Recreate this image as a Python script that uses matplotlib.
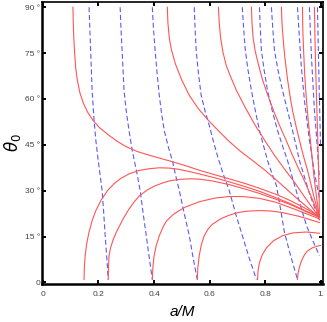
import matplotlib
matplotlib.use("Agg")
import matplotlib.pyplot as plt

# red contours that start at the top edge (a/M, theta0 in degrees)
red_t1 = [(0.108, 90), (0.109, 85), (0.111, 80), (0.114, 75), (0.118, 70), (0.124, 66), (0.133, 62),
          (0.146, 58.5), (0.162, 55.5), (0.180, 53.0), (0.205, 50.5), (0.238, 48.1), (0.270, 46.0),
          (0.300, 44.4), (0.340, 42.8), (0.383, 41.6), (0.430, 40.4), (0.466, 39.5), (0.520, 38.0),
          (0.563, 36.7), (0.620, 35.2), (0.671, 33.9), (0.730, 32.3), (0.780, 30.8), (0.840, 28.8),
          (0.888, 26.9), (0.930, 25.0), (0.960, 23.5), (0.980, 22.3), (0.996, 21.3)]
red_t2 = [(0.448, 90), (0.450, 85), (0.455, 80), (0.463, 76), (0.477, 71.5), (0.500, 66.2),
          (0.527, 61.2), (0.560, 56.8), (0.596, 53.0), (0.630, 49.8), (0.671, 46.1), (0.710, 43.0),
          (0.755, 39.9), (0.800, 36.7), (0.852, 32.6), (0.890, 29.5), (0.924, 26.8), (0.960, 24.0),
          (0.996, 21.3)]
red_t3 = [(0.632, 90), (0.635, 85), (0.640, 80), (0.648, 75.5), (0.660, 71), (0.675, 67.5),
          (0.697, 62.8), (0.730, 57.0), (0.762, 51.8), (0.800, 46.3), (0.834, 41.6), (0.870, 37.1),
          (0.906, 32.8), (0.950, 27.0), (0.996, 21.3)]
red_t4 = [(0.751, 90), (0.753, 85), (0.757, 80), (0.765, 75.5), (0.777, 71), (0.792, 66),
          (0.809, 61.5), (0.830, 56.3), (0.852, 51.4), (0.876, 46.5), (0.899, 41.6), (0.920, 37.4),
          (0.942, 33.2), (0.970, 27.3), (0.996, 21.3)]
red_t5 = [(0.859, 90), (0.861, 85), (0.865, 80), (0.871, 74), (0.881, 66.5), (0.890, 61),
          (0.899, 56.3), (0.912, 51), (0.924, 46.5), (0.938, 41.5), (0.953, 36.7), (0.965, 32.3),
          (0.975, 28.5), (0.986, 24.7), (0.996, 21.3)]
red_t6 = [(0.935, 90), (0.936, 83), (0.939, 75.9), (0.943, 68), (0.949, 60), (0.956, 52.5),
          (0.964, 46), (0.971, 39.5), (0.978, 33.4), (0.987, 27), (0.996, 21.3)]
red_t7 = [(0.978, 90), (0.980, 80), (0.982, 72), (0.985, 62), (0.988, 53), (0.991, 44),
          (0.993, 36.5), (0.995, 28.5), (0.996, 21.3)]

# red contours that rise from theta0 = 0
red_a1 = [(0.148, 1.0), (0.149, 5), (0.152, 8.8), (0.157, 12.5), (0.166, 16.5), (0.178, 20.5),
          (0.191, 23.6), (0.210, 27.0), (0.232, 30.0), (0.256, 32.3), (0.280, 34.0), (0.310, 35.5),
          (0.345, 36.6), (0.383, 37.2), (0.420, 37.5), (0.455, 37.4), (0.490, 37.0), (0.530, 36.2),
          (0.563, 35.5), (0.620, 34.2), (0.671, 32.9), (0.730, 31.3), (0.780, 29.8), (0.840, 27.7),
          (0.888, 25.9), (0.940, 23.7), (0.996, 21.3)]
red_a2 = [(0.235, 1.0), (0.236, 5), (0.238, 8.8), (0.244, 11.5), (0.253, 14.0), (0.263, 16.2),
          (0.274, 18.2), (0.290, 21.0), (0.310, 24.0), (0.330, 26.5), (0.347, 28.3), (0.375, 30.2),
          (0.401, 31.5), (0.430, 32.5), (0.455, 33.2), (0.490, 33.7), (0.530, 33.9), (0.563, 33.8),
          (0.610, 33.2), (0.671, 32.0), (0.730, 30.5), (0.780, 29.1), (0.840, 27.2), (0.888, 25.6),
          (0.940, 23.5), (0.996, 21.3)]
red_a3 = [(0.394, 1.0), (0.396, 5), (0.400, 8.5), (0.408, 12.1), (0.420, 15.5), (0.433, 18.2),
          (0.444, 20.0), (0.470, 22.3), (0.509, 24.5), (0.563, 26.4), (0.620, 27.6), (0.671, 28.1),
          (0.720, 28.1), (0.780, 27.5), (0.840, 26.2), (0.888, 24.6), (0.940, 22.8), (0.996, 20.8)]
red_a4 = [(0.556, 1.0), (0.558, 5), (0.563, 8.8), (0.571, 12.5), (0.581, 15.3), (0.595, 17.5),
          (0.610, 19.0), (0.640, 20.8), (0.671, 22.0), (0.700, 22.8), (0.733, 23.3), (0.780, 23.5),
          (0.816, 23.4), (0.860, 22.9), (0.924, 21.6), (0.960, 20.6), (0.996, 19.6)]
red_a5 = [(0.773, 1.0), (0.775, 4), (0.780, 6.5), (0.790, 9.0), (0.805, 11.3), (0.830, 13.6),
          (0.863, 15.3), (0.900, 16.2), (0.949, 16.5), (0.996, 16.1)]
red_a6 = [(0.917, 1.0), (0.919, 3), (0.924, 5), (0.931, 7), (0.942, 9), (0.953, 10.3),
          (0.970, 11.3), (0.989, 11.9), (1.0, 12.1)]

# blue dashed contours
blue_1 = [(0.166, 90), (0.170, 80), (0.173, 72.7), (0.177, 62.8), (0.184, 53.0), (0.191, 46),
          (0.199, 39.9), (0.206, 35), (0.213, 30.1), (0.219, 22.5), (0.224, 15.4), (0.230, 8),
          (0.235, 1.0)]
blue_2 = [(0.278, 90), (0.281, 83), (0.285, 75.9), (0.292, 62.8), (0.300, 56), (0.310, 49.7),
          (0.319, 44.5), (0.329, 39.9), (0.340, 35), (0.350, 30.1), (0.361, 22.5), (0.372, 15.4),
          (0.383, 8), (0.394, 1.0)]
blue_3 = [(0.394, 90), (0.398, 83), (0.404, 75.9), (0.411, 68.5), (0.419, 61.2), (0.427, 55.5),
          (0.437, 49.7), (0.451, 44.5), (0.466, 39.9), (0.478, 35), (0.491, 30.1), (0.509, 22.5),
          (0.527, 15.4), (0.541, 8), (0.556, 1.0)]
blue_4 = [(0.545, 90), (0.548, 83), (0.552, 75.9), (0.560, 68.5), (0.570, 61.2), (0.584, 56),
          (0.599, 51.4), (0.613, 46.5), (0.628, 41.6), (0.648, 35.8), (0.671, 30.1), (0.694, 22.5),
          (0.718, 15.4), (0.743, 8), (0.769, 1.0)]
blue_5 = [(0.718, 90), (0.723, 83), (0.729, 75.9), (0.739, 69.3), (0.751, 62.8), (0.765, 56.2),
          (0.780, 49.7), (0.795, 44.6), (0.809, 39.9), (0.825, 35.6), (0.841, 31.7), (0.856, 24),
          (0.870, 16.4), (0.893, 8.5), (0.917, 1.0)]
blue_6 = [(0.780, 90), (0.783, 83), (0.787, 75.9), (0.797, 69.3), (0.809, 62.8), (0.826, 56.2),
          (0.845, 49.7), (0.863, 44.7), (0.881, 39.9), (0.897, 34.8), (0.913, 29.8), (0.931, 24.2),
          (0.949, 18.7), (0.972, 13.7), (0.996, 8.8)]
blue_7 = [(0.823, 90), (0.828, 83), (0.834, 75.9), (0.847, 69.3), (0.863, 62.8), (0.881, 56.2),
          (0.899, 49.7), (0.912, 44.7), (0.924, 39.9), (0.942, 34.5), (0.960, 29.1), (0.978, 24.7),
          (0.996, 20.3)]
blue_8 = [(0.917, 90), (0.924, 80), (0.931, 70.4), (0.942, 59.6), (0.951, 53), (0.960, 46.5),
          (0.969, 41.2), (0.978, 36.0), (0.987, 31.7), (0.996, 27.5)]
blue_9 = [(0.960, 90), (0.964, 81), (0.968, 72.7), (0.973, 64.5), (0.978, 56.3), (0.984, 49.7),
          (0.989, 43.2), (0.996, 34.0)]
blue_10 = [(0.989, 90), (0.991, 81), (0.993, 72.7), (0.996, 60), (1.0, 45.0)]

red_curves = [red_t1, red_t2, red_t3, red_t4, red_t5, red_t6, red_t7,
              red_a1, red_a2, red_a3, red_a4, red_a5, red_a6]
blue_curves = [blue_1, blue_2, blue_3, blue_4, blue_5, blue_6, blue_7, blue_8, blue_9, blue_10]

x_ticks = [0, 0.2, 0.4, 0.6, 0.8, 1.0]
x_tick_labels = ["0", "0.2", "0.4", "0.6", "0.8", "1."]
y_ticks = [0, 15, 30, 45, 60, 75, 90]
y_tick_labels = ["0", "15 °", "30 °", "45 °", "60 °", "75 °", "90 °"]

plt.rcParams["font.family"] = ["Liberation Sans", "DejaVu Sans"]
plt.rcParams["mathtext.fontset"] = "dejavusans"

fig = plt.figure(figsize=(3.27, 3.22), dpi=100)
ax = fig.add_axes([0.1284, 0.118, 0.8585, 0.8767])

for c in blue_curves:
    xs, ys = zip(*c)
    ax.plot(xs, ys, color="#5a5aff", lw=0.8, dashes=(4.5, 2.5))
for c in red_curves:
    xs, ys = zip(*c)
    ax.plot(xs, ys, color="#ff5555", lw=0.8)

ax.set_xlim(-0.0036, 1.0079)
ax.set_ylim(-0.5, 91.8)
ax.set_xticks(x_ticks)
ax.set_xticklabels(x_tick_labels)
ax.set_yticks(y_ticks)
ax.set_yticklabels(y_tick_labels)
ax.tick_params(direction="in", length=3, width=1.4, labelsize=6, labelcolor="#444444",
               top=True, right=True)
ax.tick_params(axis="x", pad=5)
ax.tick_params(axis="y", pad=1.5)

for side in ["left", "bottom"]:
    ax.spines[side].set_linewidth(1.8)
for side in ["top", "right"]:
    ax.spines[side].set_linewidth(1.2)

ax.set_xlabel("a/M", fontsize=11, style="italic", labelpad=5)
ax.set_ylabel(r"$\theta_0$", fontsize=12, labelpad=1)

fig.savefig("out.png", dpi=100)
